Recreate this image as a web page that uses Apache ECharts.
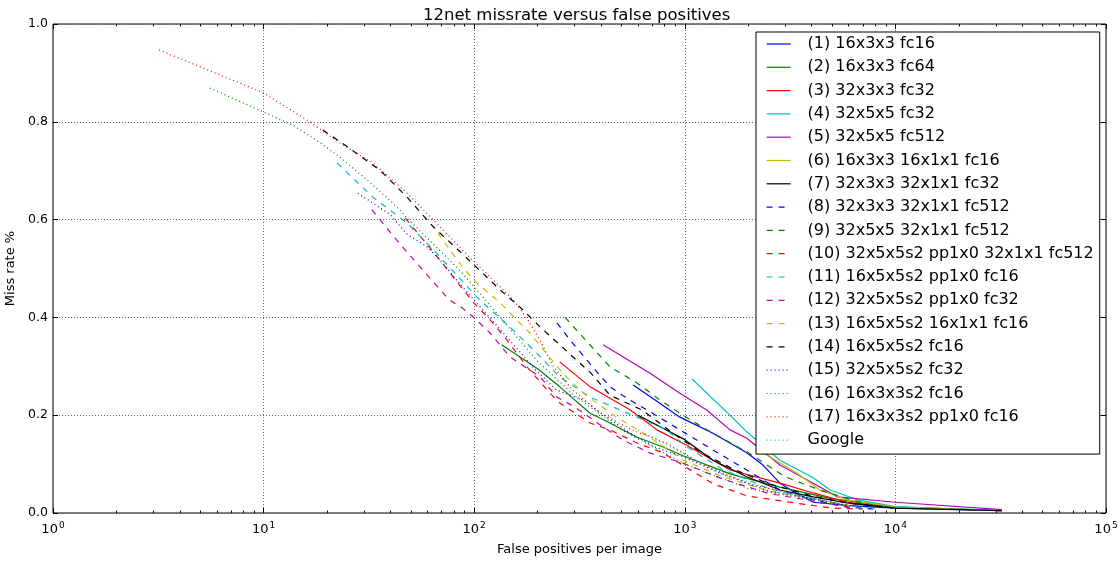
<!DOCTYPE html>
<html>
<head>
<meta charset="utf-8">
<script src="https://cdn.jsdelivr.net/npm/echarts@6/dist/echarts.min.js"></script>
<style>
  html, body { margin: 0; padding: 0; background: #fff; }
  #chart { width: 1120px; height: 561px; }
</style>
</head>
<body>
<div id="chart"></div>
<script>
// Miss-rate curves: each entry is [false positives per image, miss rate]
const names = [
  '(1) 16x3x3 fc16', '(2) 16x3x3 fc64', '(3) 32x3x3 fc32', '(4) 32x5x5 fc32',
  '(5) 32x5x5 fc512', '(6) 16x3x3 16x1x1 fc16', '(7) 32x3x3 32x1x1 fc32',
  '(8) 32x3x3 32x1x1 fc512', '(9) 32x5x5 32x1x1 fc512',
  '(10) 32x5x5s2 pp1x0 32x1x1 fc512', '(11) 16x5x5s2 pp1x0 fc16',
  '(12) 32x5x5s2 pp1x0 fc32', '(13) 16x5x5s2 16x1x1 fc16', '(14) 16x5x5s2 fc16',
  '(15) 32x5x5s2 fc32', '(16) 16x3x3s2 fc16', '(17) 16x3x3s2 pp1x0 fc16', 'Google'
];

const s01 = [[568,0.262],[700,0.235],[948,0.196],[1360,0.163],[1970,0.123],[2350,0.098],[2830,0.061],[3400,0.04],[4070,0.022],[6000,0.015],[10000,0.01],[32000,0.005]];
const s02 = [[135,0.344],[200,0.295],[255,0.258],[355,0.204],[441,0.184],[593,0.155],[788,0.135],[980,0.117],[1640,0.08],[2830,0.053],[4900,0.03],[10000,0.012],[32000,0.005]];
const s03 = [[255,0.309],[355,0.258],[549,0.211],[738,0.17],[1025,0.138],[1640,0.088],[2830,0.061],[4070,0.041],[5900,0.022],[10000,0.012],[32000,0.005]];
const s04 = [[1082,0.274],[1694,0.194],[1970,0.166],[2830,0.108],[4070,0.072],[4900,0.047],[6600,0.027],[10000,0.013],[32000,0.005]];
const s05 = [[409,0.344],[684,0.286],[948,0.245],[1275,0.21],[1640,0.17],[1970,0.153],[2830,0.098],[4070,0.061],[5300,0.033],[10000,0.022],[32000,0.007]];
const s06 = [[2300,0.15],[2350,0.123],[3400,0.082],[4380,0.047],[5900,0.027],[10000,0.012],[32000,0.005]];
const s07 = [[600,0.2],[1000,0.15],[1360,0.108],[1970,0.074],[2830,0.047],[4070,0.033],[6000,0.02],[10000,0.01],[32000,0.005]];
const s08 = [[247,0.389],[290,0.35],[355,0.305],[441,0.258],[549,0.231],[685,0.207],[948,0.17],[1360,0.129],[1970,0.088],[2830,0.047],[4070,0.027],[5900,0.012],[8000,0.008]];
const s09 = [[270,0.4],[441,0.299],[593,0.266],[763,0.231],[980,0.2],[1275,0.17],[1970,0.125],[3000,0.074],[4380,0.047],[7000,0.02],[10000,0.01]];
const s10 = [[47,0.603],[64,0.534],[83,0.472],[99,0.431],[119,0.395],[143,0.354],[178,0.299],[229,0.245],[255,0.225],[355,0.184],[441,0.17],[593,0.143],[788,0.123],[1000,0.095],[1360,0.06],[1970,0.035],[3400,0.02],[5000,0.01],[7000,0.008]];
const s11 = [[22.3,0.716],[33,0.646],[48,0.593],[64,0.538],[80,0.493],[106,0.436],[148,0.38],[198,0.327],[255,0.278],[355,0.237],[593,0.196],[820,0.17],[1025,0.135],[1500,0.09],[2500,0.05],[4000,0.03],[6000,0.015]];
const s12 = [[32.7,0.62],[44,0.552],[57,0.497],[76,0.436],[88,0.419],[99,0.401],[119,0.368],[148,0.319],[206,0.278],[247,0.237],[300,0.217],[409,0.176],[510,0.149],[680,0.123],[980,0.102],[1500,0.07],[2500,0.04],[4000,0.025],[6000,0.012]];
const s13 = [[67,0.573],[88,0.503],[103,0.47],[133,0.43],[159,0.395],[184,0.368],[220,0.327],[263,0.286],[330,0.245],[474,0.196],[630,0.164],[800,0.135],[980,0.108],[1500,0.075],[2500,0.045],[4000,0.03],[6000,0.015]];
const s14 = [[19.1,0.783],[25,0.749],[35.7,0.701],[48,0.646],[64,0.585],[83,0.54],[110,0.49],[133,0.456],[165,0.421],[206,0.38],[255,0.344],[305,0.313],[355,0.288],[441,0.241],[530,0.225],[630,0.21],[900,0.16],[1200,0.123],[1700,0.09],[2500,0.06],[4000,0.035],[6000,0.02],[10000,0.01]];
const s15 = [[28,0.654],[40,0.61],[48,0.57],[60,0.544],[71,0.511],[88,0.462],[110,0.415],[133,0.375],[198,0.29],[247,0.251],[330,0.231],[425,0.196],[549,0.164],[720,0.135],[980,0.115],[1500,0.08],[2500,0.045],[4000,0.03],[6000,0.015]];
const s16 = [[5.56,0.869],[10,0.82],[13.8,0.793],[18.6,0.757],[23,0.728],[31,0.681],[41,0.634],[53,0.585],[66,0.544],[88,0.49],[106,0.45],[133,0.4],[200,0.31],[300,0.24],[500,0.17],[1000,0.1],[2000,0.05],[5000,0.02],[8000,0.01]];
const s17 = [[3.19,0.947],[10,0.859],[16,0.804],[23,0.757],[33,0.716],[48,0.654],[69,0.585],[95,0.523],[119,0.483],[153,0.436],[180,0.395],[205,0.354],[237,0.3],[293,0.252],[395,0.205],[560,0.17],[820,0.143],[1200,0.1],[2000,0.06],[4000,0.03],[6000,0.015]];
const s18 = [[600,0.17],[1000,0.12],[1500,0.08],[2500,0.05],[4000,0.03],[6000,0.015]];

const curves = [s01,s02,s03,s04,s05,s06,s07,s08,s09,s10,s11,s12,s13,s14,s15,s16,s17,s18];

// matplotlib-style colour cycle and line styles
const palette = ['#0000ff','#008000','#ff0000','#00bfbf','#bf00bf','#bfbf00','#000000'];
const solid = 'solid', dashed = [6, 6], dotted = [1, 3];
const styleOf = i => (i < 7 ? solid : i < 14 ? dashed : dotted);

// decade ticks and the 2..9 minor ticks between them
const decades = [1, 10, 100, 1000, 10000, 100000];
const minorTicks = [];
for (let k = 0; k < decades.length - 1; k++) {
  for (let m = 2; m <= 9; m++) minorTicks.push(m * decades[k]);
}

const font = 'DejaVu Sans';
const gridLine = { show: true, lineStyle: { color: '#666', width: 1, type: [1, 2] } };

function logAxis(pos, opts) {
  return Object.assign({
    type: 'log', logBase: 10, min: 1, max: 100000, position: pos,
    axisLine: { show: false },
    axisLabel: { show: false },
    splitLine: { show: false },
    axisTick: { show: true, inside: true, length: 5, lineStyle: { color: '#000' } }
  }, opts);
}

const chart = echarts.init(document.getElementById('chart'), null, { renderer: 'canvas' });
chart.setOption({
  animation: false,
  backgroundColor: '#fff',
  title: {
    text: '12net missrate versus false positives',
    left: 418, top: 2,
    textStyle: { fontFamily: font, fontSize: 16.5, fontWeight: 'normal', color: '#000' }
  },
  grid: {
    left: 53, right: 14, top: 24, bottom: 48,
    outerBoundsMode: 'none', containLabel: false,
    show: true, borderColor: '#000', borderWidth: 1, backgroundColor: 'transparent'
  },
  legend: {
    orient: 'vertical', left: 756, top: 32,
    itemWidth: 24, itemHeight: 14, itemGap: 7.3,
    padding: [4, 6, 6, 10],
    backgroundColor: '#fff', borderColor: '#000', borderWidth: 1,
    selectedMode: false,
    itemStyle: { opacity: 0 },
    lineStyle: { width: 1.2 },
    textStyle: { fontFamily: font, fontSize: 16, lineHeight: 16, color: '#000', padding: [0, 0, 0, 12] },
    data: names
  },
  xAxis: [
    logAxis('bottom', {
      name: 'False positives per image', nameLocation: 'middle', nameGap: 30,
      nameTextStyle: { fontFamily: font, fontSize: 13, color: '#000' },
      splitLine: gridLine,
      axisLabel: {
        show: true, margin: 8, color: '#000', fontFamily: font,
        formatter: v => '{b|10}{s|' + Math.round(Math.log10(v)) + '}',
        rich: {
          b: { fontFamily: font, fontSize: 13, color: '#000' },
          s: { fontFamily: font, fontSize: 9, color: '#000', padding: [0, 0, 9, 1] }
        }
      }
    }),
    logAxis('bottom', { axisTick: { show: true, inside: true, length: 2.5, customValues: minorTicks, lineStyle: { color: '#000' } } }),
    logAxis('top', {}),
    logAxis('top', { axisTick: { show: true, inside: true, length: 2.5, customValues: minorTicks, lineStyle: { color: '#000' } } })
  ],
  yAxis: [
    {
      type: 'value', min: 0, max: 1, interval: 0.2, position: 'left',
      name: 'Miss rate %', nameLocation: 'middle', nameGap: 28, nameRotate: 90,
      nameTextStyle: { fontFamily: font, fontSize: 13, color: '#000' },
      axisLine: { show: false },
      axisTick: { show: true, inside: true, length: 5, lineStyle: { color: '#000' } },
      axisLabel: { color: '#000', fontFamily: font, fontSize: 12.5, margin: 5, formatter: v => v.toFixed(1) },
      splitLine: gridLine
    },
    {
      type: 'value', min: 0, max: 1, interval: 0.2, position: 'right',
      axisLine: { show: false },
      axisTick: { show: true, inside: true, length: 5, lineStyle: { color: '#000' } },
      axisLabel: { show: false },
      splitLine: { show: false }
    }
  ],
  series: curves.map((pts, i) => ({
    name: names[i],
    type: 'line',
    xAxisIndex: 0, yAxisIndex: 0,
    data: pts,
    symbol: 'none', showSymbol: false,
    color: palette[i % 7],
    lineStyle: { color: palette[i % 7], width: 1.2, type: styleOf(i) },
    z: 2
  }))
});
</script>
</body>
</html>
